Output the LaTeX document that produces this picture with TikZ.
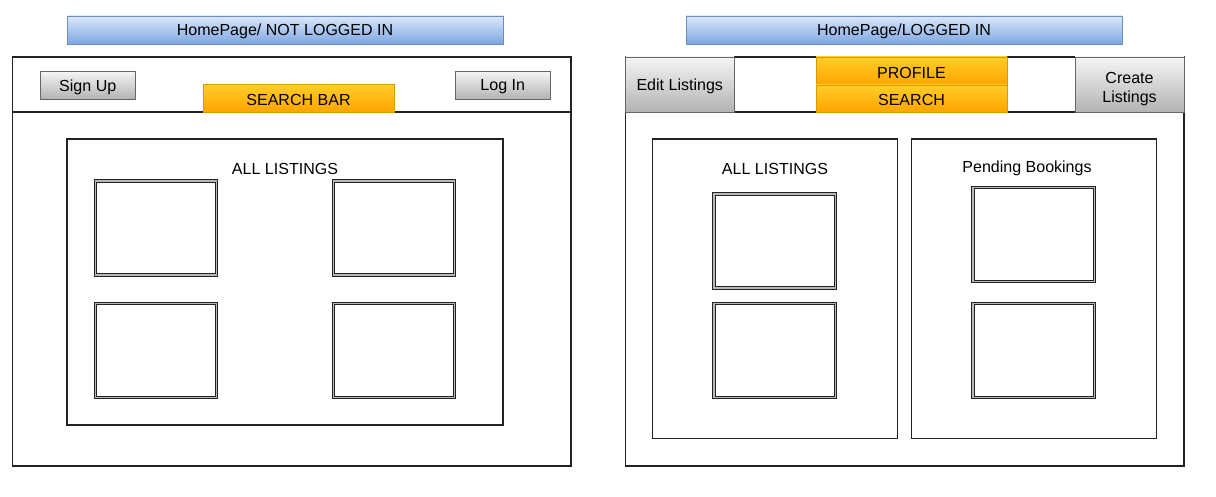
\documentclass[tikz,border=0pt]{standalone}
\usepackage{fontspec}
\setmainfont{Liberation Sans}
\usetikzlibrary{fit}
\definecolor{bluetop}{HTML}{DAE8FC}
\definecolor{bluebot}{HTML}{7EA6E0}
\definecolor{bluestroke}{HTML}{6C8EBF}
\definecolor{ortop}{HTML}{FFCD28}
\definecolor{orbot}{HTML}{FFA500}
\definecolor{orstroke}{HTML}{D79B00}
\definecolor{grtop}{HTML}{F5F5F5}
\definecolor{grbot}{HTML}{B3B3B3}
\definecolor{grstroke}{HTML}{666666}
\definecolor{framec}{HTML}{222222}
\tikzset{
  box/.style={inner sep=0pt, outer sep=0pt},
  titlebar/.style={box, draw=bluestroke, line width=0.7pt, top color=bluetop, bottom color=bluebot},
  orangebar/.style={box, draw=orstroke, line width=0.7pt, top color=ortop, bottom color=orbot},
  graybtn/.style={box, draw=grstroke, line width=0.7pt, top color=grtop, bottom color=grbot},
  frame/.style={box, draw=framec, line width=0.75pt, fill=white},
  panel/.style={box, draw=framec, line width=0.75pt},
  card/.style={box, draw=framec, line width=0.6pt, double=gray!55, double distance=1.1pt},
  lbl/.style={inner sep=0pt, outer sep=0pt, anchor=center, align=center,
    font=\fontsize{11.4}{13.5}\selectfont, text=black, yshift=-1.3pt},
  divider/.style={draw=framec, line width=0.75pt}
}
\begin{document}
\begin{tikzpicture}[x=0.025cm, y=-0.025cm]
\useasboundingbox (0,0) rectangle (1216,497);

% ---------- Left page: NOT LOGGED IN ----------
\node[titlebar, fit={(67,16) (503,44)}] (t1) {};
\node[lbl] (t1l) at (t1.center) {HomePage/ NOT LOGGED IN};
\node[frame, fit={(12.5,57) (571,466)}] (f1) {};
\coordinate (d1l) at (12.5,112);
\coordinate (d1r) at (571,112);
\draw[divider] (d1l) -- (d1r);
\node[graybtn, fit={(40,71.5) (135.5,99)}] (signup) {};
\node[lbl] (signupl) at (signup.center) {Sign Up};
\node[graybtn, fit={(455,71.5) (550.5,99)}] (login) {};
\node[lbl] (loginl) at (login.center) {Log In};
\node[orangebar, fit={(203,84.5) (394,112)}] (search1) {};
\node[lbl] (search1l) at (search1.center) {SEARCH BAR};

\node[panel, fit={(67,139) (503,425)}] (all1) {};
\node[lbl] (all1l) at (285,167) {ALL LISTINGS};
\node[card, fit={(95.5,181) (216.5,275)}] (c11) {};
\node[card, fit={(333.5,181) (454.5,275)}] (c12) {};
\node[card, fit={(95.5,303.5) (216.5,397.5)}] (c13) {};
\node[card, fit={(333.5,303.5) (454.5,397.5)}] (c14) {};

% ---------- Right page: LOGGED IN ----------
\node[titlebar, fit={(686,16) (1122,44)}] (t2) {};
\node[lbl] (t2l) at (t2.center) {HomePage/LOGGED IN};
\node[frame, fit={(625.5,57) (1184,466)}] (f2) {};
\coordinate (d2l) at (625.5,112);
\coordinate (d2r) at (1184,112);
\draw[divider] (d2l) -- (d2r);
\node[graybtn, fit={(625.5,57) (734,112)}] (edit) {};
\node[lbl] (editl) at (edit.center) {Edit Listings};
\node[graybtn, fit={(1075,57) (1184,112)}] (create) {};
\node[lbl, yshift=-1.8pt] (createl) at (create.center) {Create\\Listings};
\node[orangebar, fit={(816,57) (1007,85)}] (profile) {};
\node[lbl] (profilel) at (profile.center) {PROFILE};
\node[orangebar, fit={(816,85) (1007,112)}] (search2) {};
\node[lbl] (search2l) at (search2.center) {SEARCH};

\node[panel, fit={(652.5,139) (897.5,438.5)}] (all2) {};
\node[lbl] (all2l) at (775,167) {ALL LISTINGS};
\node[card, fit={(714,194) (835.5,288)}] (c21) {};
\node[card, fit={(714,303.5) (835.5,397.5)}] (c22) {};

\node[panel, fit={(911.5,139) (1156.5,438.5)}] (pend) {};
\node[lbl] (pendl) at (1027,167) {Pending Bookings};
\node[card, fit={(973,187.5) (1094.5,281.5)}] (c31) {};
\node[card, fit={(973,303.5) (1094.5,397.5)}] (c32) {};
\end{tikzpicture}
\end{document}
